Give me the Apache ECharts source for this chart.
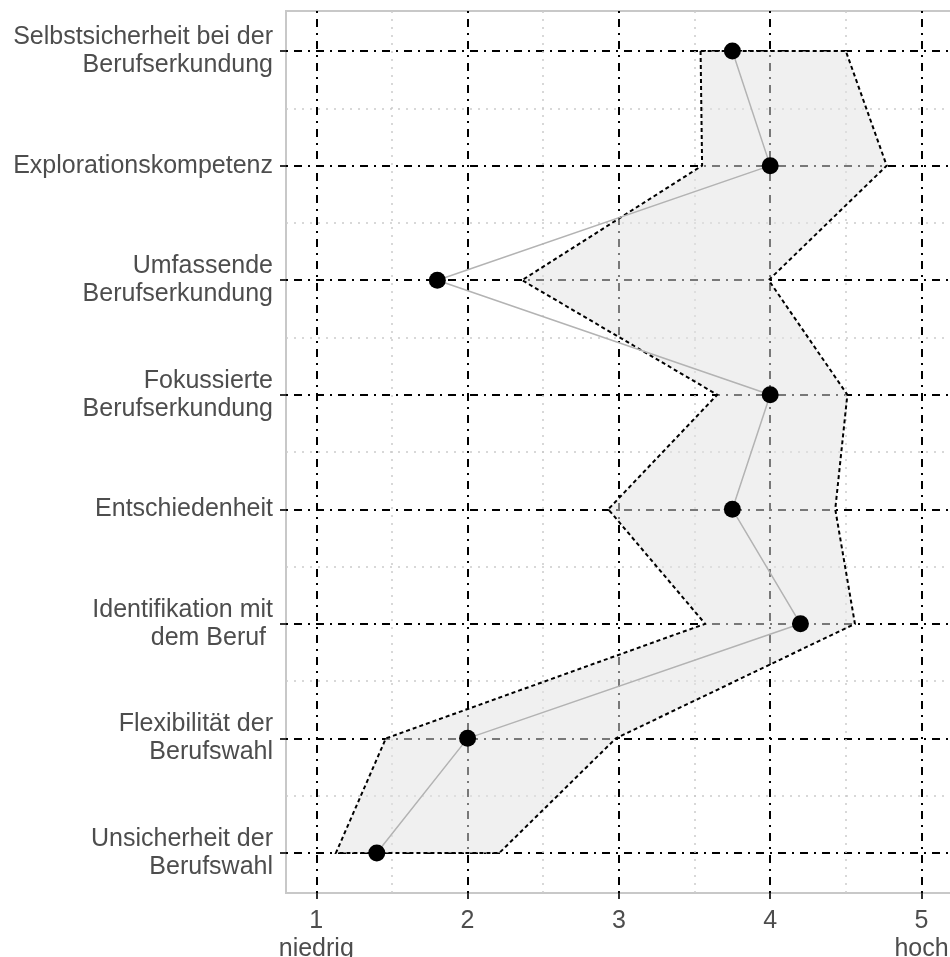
<!DOCTYPE html>
<html>
<head>
<meta charset="utf-8">
<script src="https://cdn.jsdelivr.net/npm/echarts@6/dist/echarts.min.js"></script>
<style>
  html, body { margin: 0; padding: 0; background: #fff; }
  #chart { width: 950px; height: 957px; }
</style>
</head>
<body>
<div id="chart"></div>
<script>
// Zeilen von oben nach unten
const categories = [
    'Selbstsicherheit bei der\nBerufserkundung',
    'Explorationskompetenz',
    'Umfassende\nBerufserkundung',
    'Fokussierte\nBerufserkundung',
    'Entschiedenheit',
    'Identifikation mit\ndem Beruf ',
    'Flexibilität der\nBerufswahl',
    'Unsicherheit der\nBerufswahl'
];
const meanValues = [3.75, 4.0, 1.8, 4.0, 3.75, 4.2, 2.0, 1.4];
const lowerValues = [3.54, 3.55, 2.36, 3.65, 2.93, 3.57, 1.46, 1.13];
const upperValues = [4.5, 4.77, 3.99, 4.51, 4.43, 4.56, 2.98, 2.21];
const xTicks = [1, 2, 3, 4, 5];
const xTickLabels = ['1\nniedrig', '2', '3', '4', '5\nhoch'];
const xMinor = [1.5, 2.5, 3.5, 4.5];
const rowTicks = [1, 2, 3, 4, 5, 6, 7, 8];
const rowMinor = [1.5, 2.5, 3.5, 4.5, 5.5, 6.5, 7.5];

const fontFamily = '"Liberation Sans", Arial, sans-serif';
const majorLine = { color: '#000', width: 2, type: [2, 6, 8, 6] };
const minorLine = { color: '#cccccc', width: 1.5, type: [2, 6] };

const chart = echarts.init(document.getElementById('chart'));

// Panel läuft rechts über den Rand hinaus
const option = {
    animation: false,
    grid: {
        left: 286, top: 11, width: 670, height: 882,
        containLabel: false,
        outerBoundsMode: 'none',
        show: true,
        borderColor: '#c8c8c8',
        borderWidth: 2,
        backgroundColor: 'transparent'
    },
    xAxis: [
        {
            type: 'value', min: 0.8, max: 5.228,
            axisLine: { show: false },
            axisTick: { show: true, length: 6, customValues: xTicks, lineStyle: { color: '#333', width: 2 } },
            axisLabel: {
                customValues: xTicks,
                margin: 14,
                color: '#4d4d4d',
                fontSize: 25,
                fontFamily: fontFamily,
                lineHeight: 28,
                formatter: v => xTickLabels[xTicks.indexOf(v)]
            },
            splitLine: { show: true, lineStyle: majorLine }
        },
        {
            type: 'value', min: 0.8, max: 5.228, position: 'bottom',
            axisLine: { show: false },
            axisTick: { show: false, customValues: xMinor },
            axisLabel: { show: false },
            splitLine: { show: true, lineStyle: minorLine }
        }
    ],
    yAxis: [
        {
            type: 'value', min: 0.65, max: 8.35, inverse: true,
            axisLine: { show: false },
            axisTick: { show: true, length: 6, customValues: rowTicks, lineStyle: { color: '#333', width: 2 } },
            axisLabel: {
                customValues: rowTicks,
                margin: 13,
                color: '#4d4d4d',
                fontSize: 25,
                fontFamily: fontFamily,
                lineHeight: 28,
                align: 'right',
                formatter: v => categories[v - 1]
            },
            splitLine: { show: true, lineStyle: majorLine }
        },
        {
            type: 'value', min: 0.65, max: 8.35, inverse: true, position: 'left',
            axisLine: { show: false },
            axisTick: { show: false, customValues: rowMinor },
            axisLabel: { show: false },
            splitLine: { show: true, lineStyle: minorLine }
        }
    ],
    series: [
        {
            // Band zwischen unterer und oberer Grenze
            type: 'custom',
            xAxisIndex: 0,
            yAxisIndex: 0,
            data: categories.map((c, i) => [lowerValues[i], i + 1, upperValues[i]]),
            renderItem: function (params, api) {
                if (params.dataIndex !== 0) return;
                const pts = [];
                for (let i = 0; i < categories.length; i++) {
                    pts.push(api.coord([lowerValues[i], i + 1]));
                }
                for (let i = categories.length - 1; i >= 0; i--) {
                    pts.push(api.coord([upperValues[i], i + 1]));
                }
                return {
                    type: 'polygon',
                    shape: { points: pts },
                    style: {
                        fill: 'rgba(226,226,226,0.53)',
                        stroke: '#000',
                        lineWidth: 2,
                        lineDash: [4, 3]
                    }
                };
            },
            z: 2
        },
        {
            type: 'line',
            xAxisIndex: 0,
            yAxisIndex: 0,
            data: meanValues.map((v, i) => [v, i + 1]),
            symbol: 'circle',
            symbolSize: 17,
            itemStyle: { color: '#000' },
            lineStyle: { color: '#b3b3b3', width: 1.5 },
            z: 3
        }
    ]
};

chart.setOption(option);
</script>
</body>
</html>
